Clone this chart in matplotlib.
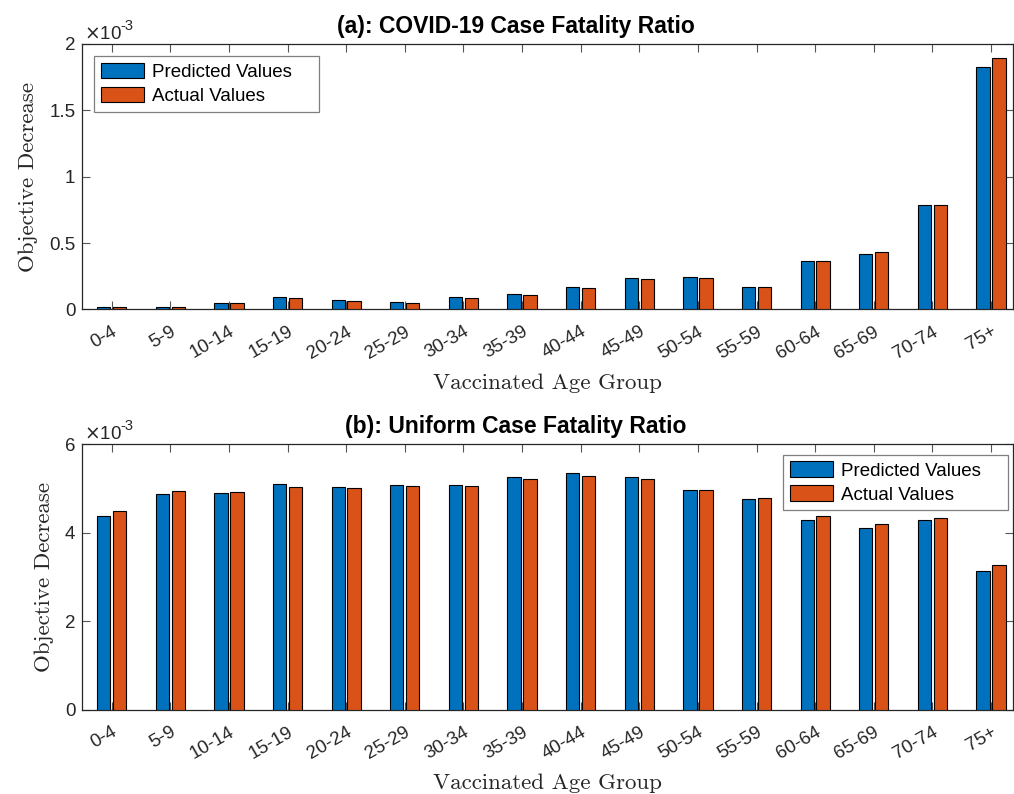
import numpy as np
import matplotlib
matplotlib.use("Agg")
import matplotlib.pyplot as plt
from matplotlib.ticker import FuncFormatter

plt.rcParams['font.family'] = ['Liberation Sans', 'DejaVu Sans']

age_groups = ['0-4', '5-9', '10-14', '15-19', '20-24', '25-29', '30-34', '35-39',
              '40-44', '45-49', '50-54', '55-59', '60-64', '65-69', '70-74', '75+']

# values in units of 1e-3
covid_pred = [0.017, 0.018, 0.047, 0.090, 0.068, 0.055, 0.090, 0.115,
              0.168, 0.236, 0.241, 0.168, 0.364, 0.419, 0.785, 1.827]
covid_actual = [0.017, 0.018, 0.045, 0.085, 0.063, 0.050, 0.085, 0.108,
                0.160, 0.226, 0.233, 0.168, 0.362, 0.429, 0.790, 1.895]

uniform_pred = [4.37, 4.88, 4.906, 5.11, 5.03, 5.087, 5.07, 5.25,
                5.345, 5.25, 4.974, 4.763, 4.289, 4.108, 4.28, 3.143]
uniform_actual = [4.50, 4.945, 4.92, 5.035, 5.005, 5.057, 5.057, 5.21,
                  5.29, 5.215, 4.97, 4.78, 4.37, 4.198, 4.33, 3.265]

blue = '#0072BD'
orange = '#D95319'
axcol = '#262626'
serif = 'cmr10'

fig = plt.figure(figsize=(10.14, 7.94), dpi=100)
ax1 = fig.add_axes([0.0812, 0.6104, 0.9178, 0.3342])
ax2 = fig.add_axes([0.0812, 0.1062, 0.9178, 0.3342])


def draw(ax, pred, actual, title, ymax, yticks, legend_anchor, legend_loc):
    x = np.arange(1, len(age_groups) + 1)
    w = 0.227
    # trailing spaces give the wide right margin of the MATLAB legend box
    ax.bar(x - 0.136, pred, w, color=blue, edgecolor='black', linewidth=0.8,
           label='Predicted Values    ', zorder=3)
    ax.bar(x + 0.136, actual, w, color=orange, edgecolor='black', linewidth=0.8,
           label='Actual Values', zorder=3)
    ax.set_xlim(0.5, 16.375)
    ax.set_ylim(0, ymax)
    ax.set_xticks(x)
    ax.set_xticklabels(age_groups, rotation=30, ha='right', rotation_mode='anchor')
    ax.set_yticks(yticks)
    ax.yaxis.set_major_formatter(FuncFormatter(lambda v, p: '%g' % v))
    ax.tick_params(direction='in', length=5.5, width=0.8, color='#555555',
                   labelcolor=axcol, labelsize=13.5, top=True, right=True)
    ax.tick_params(axis='x', pad=10)
    ax.tick_params(axis='y', pad=5)
    for s in ax.spines.values():
        s.set_color(axcol)
        s.set_linewidth(0.9)
    ax.set_title(title, fontsize=16.5, fontweight='bold', pad=8, x=0.466)
    ax.set_xlabel('Vaccinated Age Group', family=serif, fontsize=16.5, color=axcol, labelpad=8)
    ax.set_ylabel('Objective Decrease', family=serif, fontsize=16.5, color=axcol, labelpad=8)
    ax.annotate(r'$\times$10', xy=(0, 1), xycoords='axes fraction', xytext=(2, 5),
                textcoords='offset pixels', fontsize=13.5, color=axcol,
                ha='left', va='baseline')
    ax.annotate('-3', xy=(0, 1), xycoords='axes fraction', xytext=(38, 14),
                textcoords='offset pixels', fontsize=10.5, color=axcol,
                ha='left', va='baseline')
    leg = ax.legend(loc=legend_loc, bbox_to_anchor=legend_anchor, fontsize=13.5,
                    fancybox=False, edgecolor='#7f7f7f', framealpha=1,
                    handlelength=2.3, handleheight=0.9, handletextpad=0.4,
                    labelspacing=0.3, borderpad=0.36, borderaxespad=0)
    leg.get_frame().set_linewidth(0.9)


draw(ax1, covid_pred, covid_actual, '(a): COVID-19 Case Fatality Ratio', 2,
     [0, 0.5, 1, 1.5, 2], (0.0128, 0.955), 'upper left')
draw(ax2, uniform_pred, uniform_actual, '(b): Uniform Case Fatality Ratio', 6,
     [0, 2, 4, 6], (0.995, 0.961), 'upper right')

fig.savefig('out.png', dpi=100)
